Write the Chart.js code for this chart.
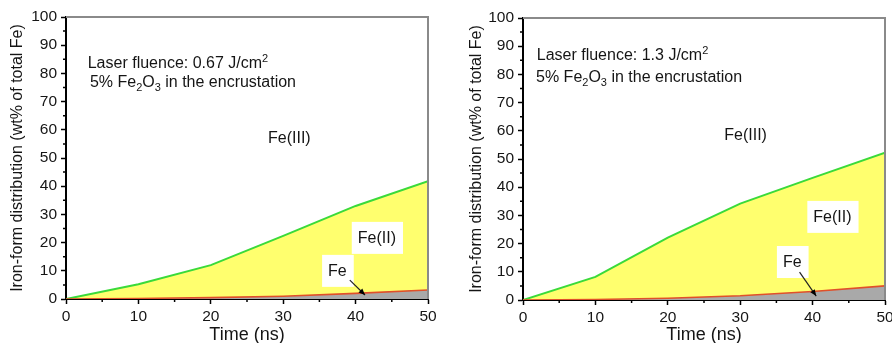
<!DOCTYPE html>
<html>
<head>
<meta charset="utf-8">
<script src="https://cdn.jsdelivr.net/npm/chart.js@4/dist/chart.umd.min.js"></script>
<style>
  html, body { margin: 0; padding: 0; background: #fff; }
  body { width: 892px; height: 343px; position: relative; overflow: hidden; }
  .panel { position: absolute; top: 0; width: 446px; height: 343px; }
</style>
</head>
<body>
<div class="panel" style="left:0"><canvas id="cLeft" width="446" height="343"></canvas></div>
<div class="panel" style="left:446px"><canvas id="cRight" width="446" height="343"></canvas></div>
<script>
/* iron-form distribution vs time, two laser fluences */

var times = [0, 10, 20, 30, 40, 50];

// cumulative curves: Fe (grey, red edge) and Fe + Fe(II) (yellow, green edge)
var feLow = [0, 0.2, 0.5, 1.0, 2.0, 3.2];
var fe2Low = [0, 5.2, 12.0, 22.4, 33.0, 41.8];
var feHigh = [0, 0.2, 0.6, 1.5, 3.0, 5.0];
var fe2High = [0, 8.2, 22.1, 34.2, 43.3, 52.2];

var fluences = ["0.67", "1.3"];

var FONT = "'Liberation Sans', Arial, sans-serif";

function drawRuns(c, x, y, runs, size) {
  runs.forEach(function(r) {
    var t = r[0], kind = r[1];
    if (kind === "sup") {
      c.font = Math.round(size * 0.68) + "px " + FONT;
      c.fillText(t, x, y - size * 0.38);
    } else if (kind === "sub") {
      c.font = Math.round(size * 0.68) + "px " + FONT;
      c.fillText(t, x, y + size * 0.25);
    } else {
      c.font = size + "px " + FONT;
      c.fillText(t, x, y);
    }
    x += c.measureText(t).width;
  });
}

var notesPlugin = {
  id: "notes",
  afterDraw: function(ch, args, o) {
    var c = ch.ctx, xs = ch.scales.x, ys = ch.scales.y, a = ch.chartArea;
    var px = function(v) { return xs.getPixelForValue(v); };
    var py = function(v) { return ys.getPixelForValue(v); };
    c.save();

    // grey frame top / right
    c.strokeStyle = "#8a8a8a";
    c.lineWidth = 2;
    c.beginPath();
    c.moveTo(a.left, a.top); c.lineTo(a.right, a.top); c.lineTo(a.right, a.bottom);
    c.stroke();

    // minor ticks
    c.strokeStyle = "#000";
    c.lineWidth = 1.5;
    c.beginPath();
    for (var v = 5; v < 50; v += 10) {
      c.moveTo(px(v), a.bottom); c.lineTo(px(v), a.bottom + 3);
    }
    for (var w = 5; w < 100; w += 10) {
      c.moveTo(a.left, py(w)); c.lineTo(a.left - 3, py(w));
    }
    c.stroke();

    c.fillStyle = "#151515";
    c.textBaseline = "alphabetic";
    c.textAlign = "left";

    // heading
    drawRuns(c, px(o.head[0]), py(o.head[1]),
      [["Laser fluence: " + o.fluence + " J/cm", ""], ["2", "sup"]], 16);
    drawRuns(c, px(o.head2[0]), py(o.head2[1]),
      [["5% Fe", ""], ["2", "sub"], ["O", ""], ["3", "sub"], [" in the encrustation", ""]], 16);

    // region labels with white boxes
    o.labels.forEach(function(l) {
      var x = px(l.at[0]), y = py(l.at[1]);
      c.font = "16px " + FONT;
      var tw = c.measureText(l.text).width;
      if (l.box) {
        c.fillStyle = "#fff";
        c.fillRect(x - 6, y - 21, tw + 13, 32);
      }
      c.fillStyle = "#151515";
      c.fillText(l.text, x, y);
    });

    // arrow to the Fe band
    var x1 = px(o.arrow[0]), y1 = py(o.arrow[1]), x2 = px(o.arrow[2]), y2 = py(o.arrow[3]);
    var ang = Math.atan2(y2 - y1, x2 - x1);
    c.strokeStyle = "#222";
    c.lineWidth = 1.2;
    c.beginPath(); c.moveTo(x1, y1); c.lineTo(x2, y2); c.stroke();
    c.fillStyle = "#000";
    c.beginPath();
    c.moveTo(x2, y2);
    c.lineTo(x2 - 7 * Math.cos(ang - 0.4), y2 - 7 * Math.sin(ang - 0.4));
    c.lineTo(x2 - 7 * Math.cos(ang + 0.4), y2 - 7 * Math.sin(ang + 0.4));
    c.closePath(); c.fill();

    c.restore();
  }
};

function makeChart(id, fe, fe2, lay, notes) {
  var ctx = document.getElementById(id);
  return new Chart(ctx, {
    type: "line",
    data: {
      labels: times,
      datasets: [{
        label: "Fe",
        data: times.map(function(t, i) { return { x: t, y: fe[i] }; }),
        borderColor: "#e0502a",
        borderWidth: 1.6,
        backgroundColor: "#a9a9a9",
        fill: "origin",
        pointRadius: 0,
        tension: 0
      }, {
        label: "Fe(II)",
        data: times.map(function(t, i) { return { x: t, y: fe2[i] }; }),
        borderColor: "#3ada3a",
        borderWidth: 2,
        backgroundColor: "#ffff6e",
        fill: "-1",
        pointRadius: 0,
        tension: 0
      }]
    },
    options: {
      responsive: false,
      animation: false,
      events: [],
      layout: { padding: { left: lay.padL, right: lay.padR, top: lay.padT, bottom: 0 } },
      scales: {
        x: {
          type: "linear",
          min: 0, max: 50,
          afterFit: function(s) { s.height = lay.xH; s.paddingLeft = 0; s.paddingRight = 0; },
          border: { color: "#000", width: 2 },
          grid: { drawOnChartArea: false, tickLength: 5, tickColor: "#000", tickWidth: 1.5 },
          ticks: { stepSize: 10, padding: 3, color: "#151515", maxRotation: 0,
                   font: { size: 15.5, family: FONT } },
          title: { display: true, text: "Time (ns)", color: "#151515", padding: 0,
                   font: { size: 18, family: FONT, lineHeight: 0.9 } }
        },
        y: {
          min: 0, max: 100,
          afterFit: function(s) { s.width = lay.yW; s.paddingTop = 0; s.paddingBottom = 0; },
          border: { color: "#000", width: 2 },
          grid: { drawOnChartArea: false, tickLength: 5, tickColor: "#000", tickWidth: 1.5 },
          ticks: { stepSize: 10, padding: 4, color: "#151515",
                   font: { size: 15.5, family: FONT } },
          title: { display: true, text: "Iron-form distribution (wt% of total Fe)", color: "#151515",
                   padding: 0, font: { size: 16, family: FONT, lineHeight: 1.2 } }
        }
      },
      plugins: {
        legend: { display: false },
        tooltip: { enabled: false },
        notes: notes
      }
    },
    plugins: [notesPlugin]
  });
}

makeChart("cLeft", feLow, fe2Low,
  { padL: 8.4, padR: 18, padT: 17, xH: 44, yW: 57.6 },
  {
    fluence: fluences[0],
    head: [3.0, 82], head2: [3.3, 75.2],
    labels: [
      { text: "Fe(III)", at: [27.9, 55.3], box: false },
      { text: "Fe(II)", at: [40.3, 19.9], box: true },
      { text: "Fe", at: [36.2, 8.2], box: true }
    ],
    arrow: [39.2, 6.7, 41.3, 1.4]
  });

makeChart("cRight", feHigh, fe2High,
  { padL: 21.4, padR: 7, padT: 18, xH: 43, yW: 55.6 },
  {
    fluence: fluences[1],
    head: [1.9, 85.1], head2: [1.8, 77.3],
    labels: [
      { text: "Fe(III)", at: [27.8, 56.7], box: false },
      { text: "Fe(II)", at: [40.1, 27.7], box: true },
      { text: "Fe", at: [35.9, 11.7], box: true }
    ],
    arrow: [38.2, 9.9, 40.5, 1.4]
  });
</script>
</body>
</html>
